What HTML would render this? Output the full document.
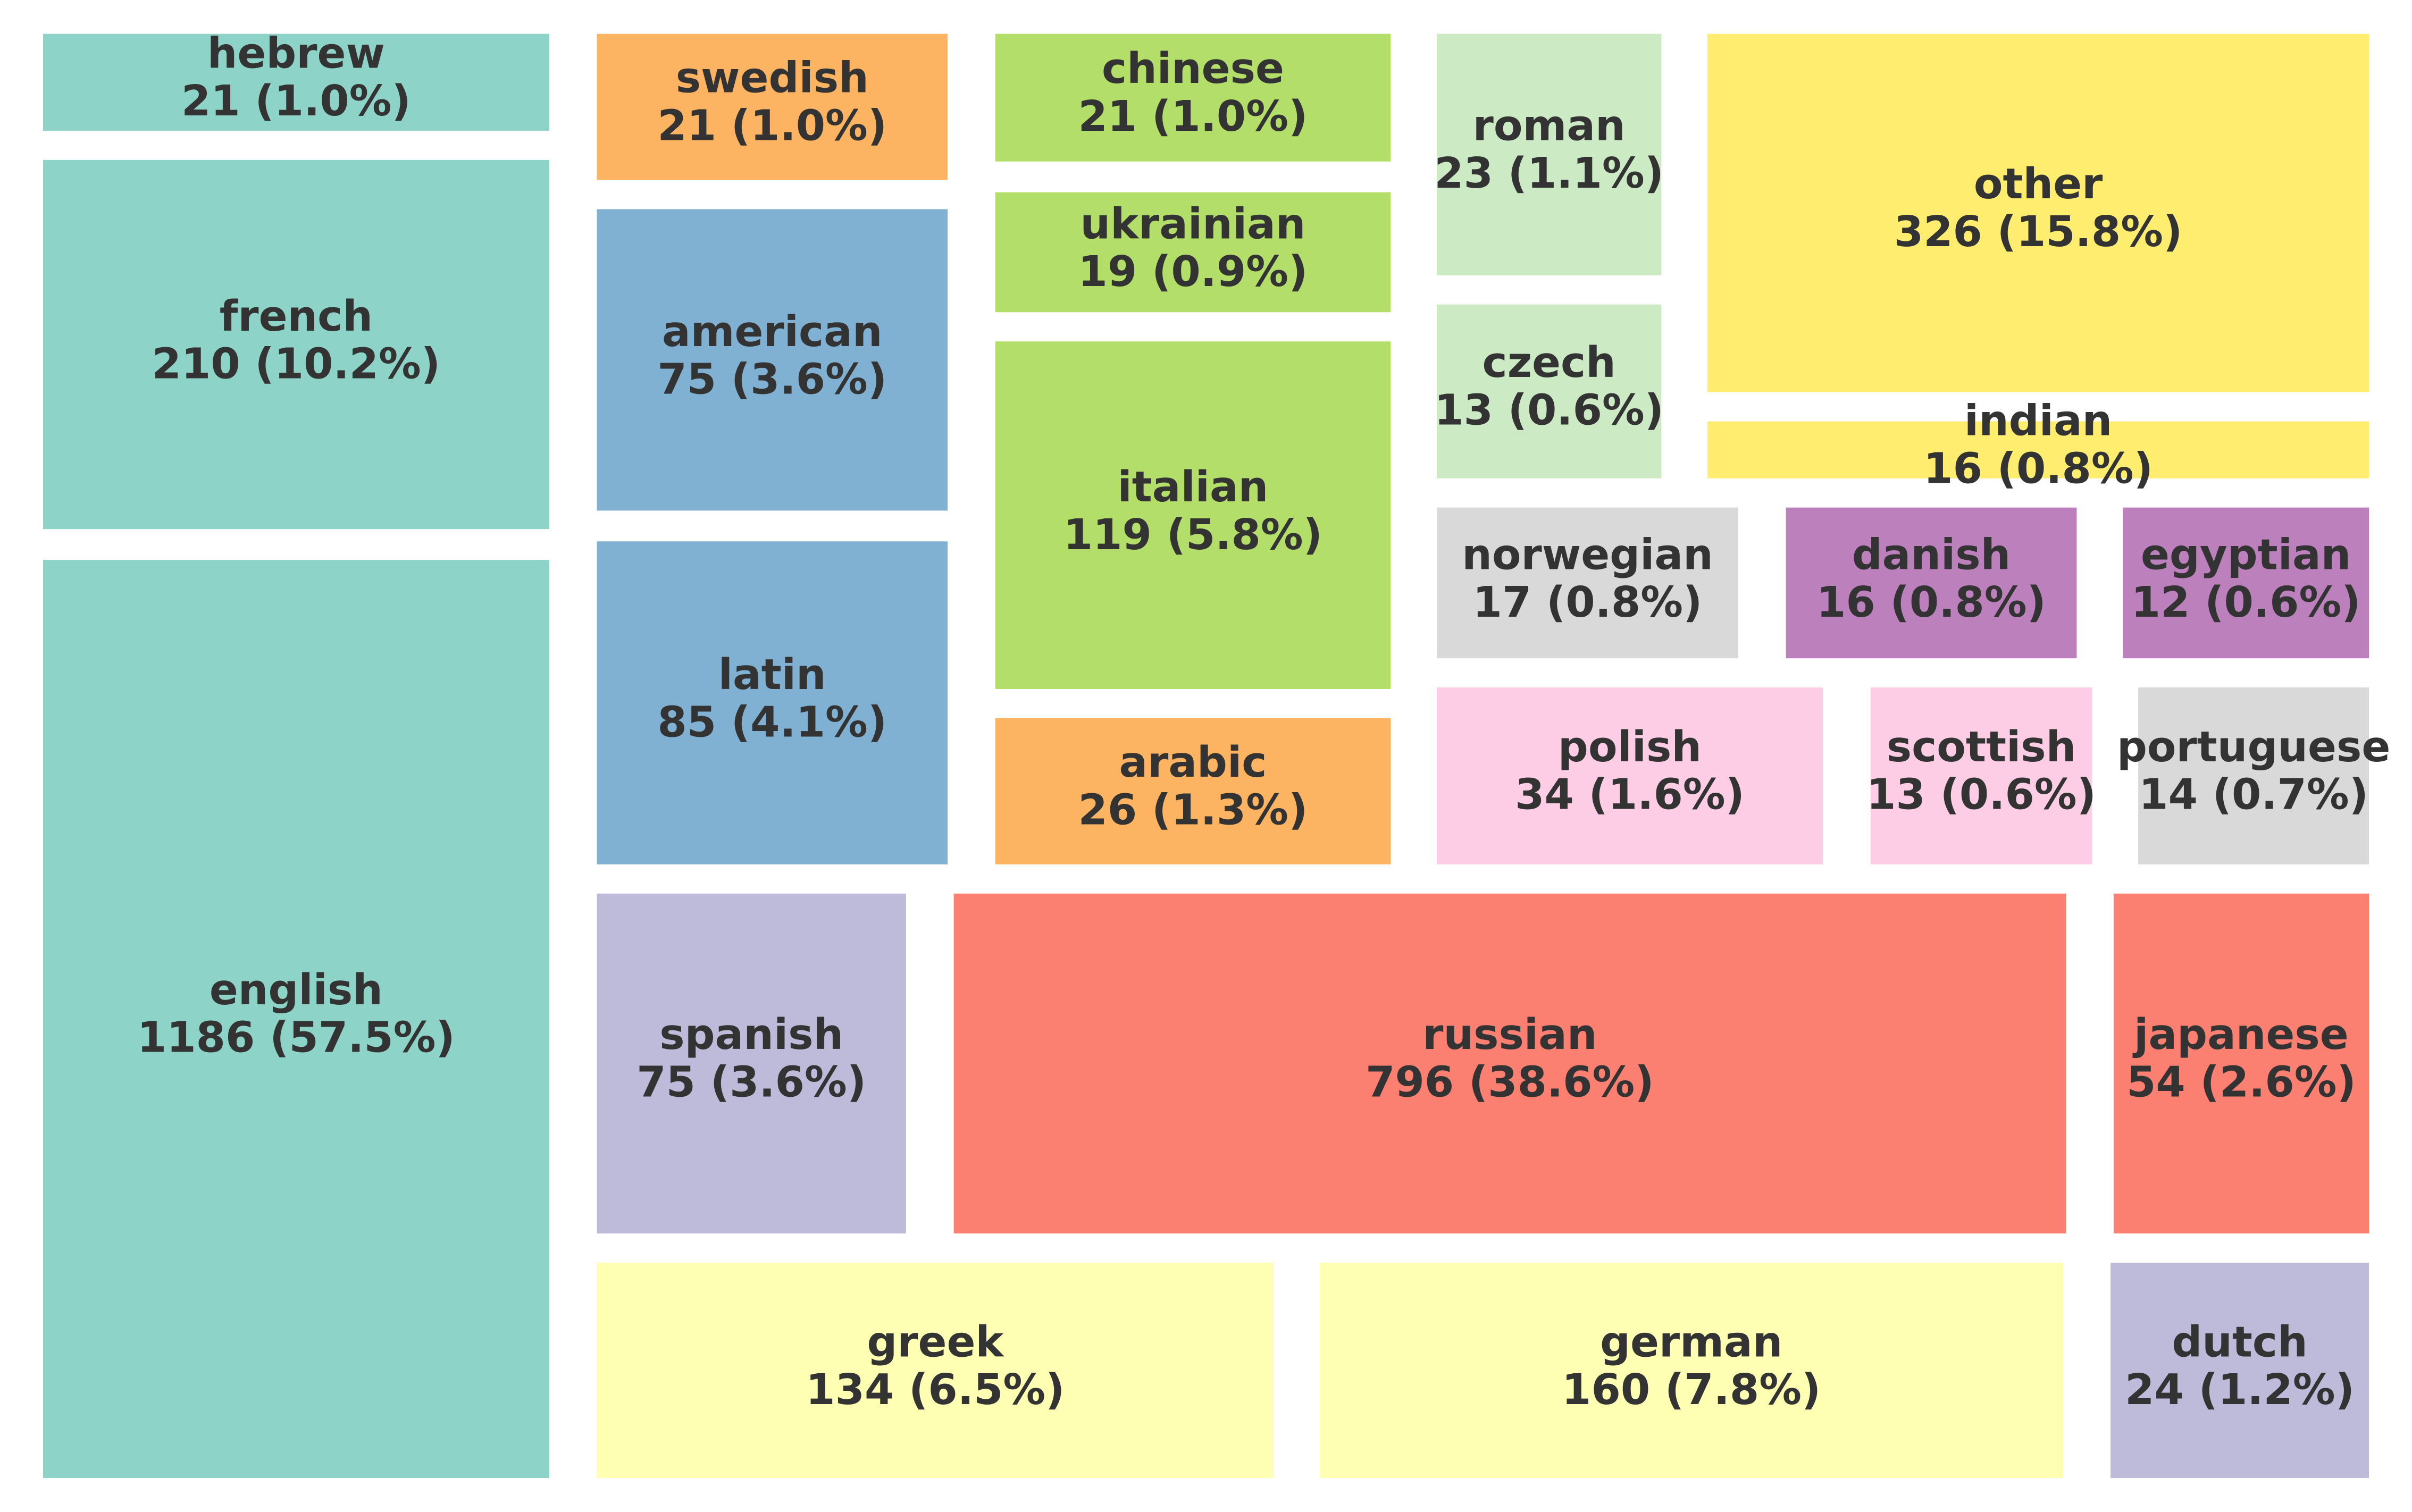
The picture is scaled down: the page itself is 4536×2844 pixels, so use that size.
<!DOCTYPE html>
<html><head><meta charset="utf-8"><style>
html,body{margin:0;padding:0;background:#fff;}
body{width:4536px;height:2844px;overflow:hidden;position:relative;}
#c{position:absolute;left:0;top:0;width:1568px;height:983px;transform:scale(2.8929);transform-origin:0 0;}
.r{position:absolute;display:flex;align-items:center;justify-content:center;text-align:center;box-sizing:border-box;padding-bottom:5px;
font-family:"DejaVu Sans","Liberation Sans",sans-serif;font-weight:bold;font-size:27.5px;line-height:31px;color:#333;white-space:nowrap;overflow:visible;}
</style></head><body><div id="c">
<div class="r" style="left:28px;top:22px;width:329px;height:63px;background:#8dd3c7">hebrew<br>21 (1.0%)</div>
<div class="r" style="left:28px;top:104px;width:329px;height:240px;background:#8dd3c7">french<br>210 (10.2%)</div>
<div class="r" style="left:28px;top:364px;width:329px;height:597px;background:#8dd3c7">english<br>1186 (57.5%)</div>
<div class="r" style="left:388px;top:22px;width:228px;height:95px;background:#fdb462">swedish<br>21 (1.0%)</div>
<div class="r" style="left:388px;top:136px;width:228px;height:196px;background:#80b1d3">american<br>75 (3.6%)</div>
<div class="r" style="left:388px;top:352px;width:228px;height:210px;background:#80b1d3">latin<br>85 (4.1%)</div>
<div class="r" style="left:647px;top:22px;width:257px;height:83px;background:#b3de69">chinese<br>21 (1.0%)</div>
<div class="r" style="left:647px;top:125px;width:257px;height:78px;background:#b3de69">ukrainian<br>19 (0.9%)</div>
<div class="r" style="left:647px;top:222px;width:257px;height:226px;background:#b3de69">italian<br>119 (5.8%)</div>
<div class="r" style="left:647px;top:467px;width:257px;height:95px;background:#fdb462">arabic<br>26 (1.3%)</div>
<div class="r" style="left:934px;top:22px;width:146px;height:157px;background:#ccebc5">roman<br>23 (1.1%)</div>
<div class="r" style="left:934px;top:198px;width:146px;height:113px;background:#ccebc5">czech<br>13 (0.6%)</div>
<div class="r" style="left:1110px;top:22px;width:430px;height:233px;background:#ffed6f">other<br>326 (15.8%)</div>
<div class="r" style="left:1110px;top:274px;width:430px;height:37px;background:#ffed6f">indian<br>16 (0.8%)</div>
<div class="r" style="left:934px;top:330px;width:196px;height:98px;background:#d9d9d9">norwegian<br>17 (0.8%)</div>
<div class="r" style="left:1161px;top:330px;width:189px;height:98px;background:#bc80bd">danish<br>16 (0.8%)</div>
<div class="r" style="left:1380px;top:330px;width:160px;height:98px;background:#bc80bd">egyptian<br>12 (0.6%)</div>
<div class="r" style="left:934px;top:447px;width:251px;height:115px;background:#fccde5">polish<br>34 (1.6%)</div>
<div class="r" style="left:1216px;top:447px;width:144px;height:115px;background:#fccde5">scottish<br>13 (0.6%)</div>
<div class="r" style="left:1390px;top:447px;width:150px;height:115px;background:#d9d9d9">portuguese<br>14 (0.7%)</div>
<div class="r" style="left:388px;top:581px;width:201px;height:221px;background:#bebada">spanish<br>75 (3.6%)</div>
<div class="r" style="left:620px;top:581px;width:723px;height:221px;background:#fb8072">russian<br>796 (38.6%)</div>
<div class="r" style="left:1374px;top:581px;width:166px;height:221px;background:#fb8072">japanese<br>54 (2.6%)</div>
<div class="r" style="left:388px;top:821px;width:440px;height:140px;background:#ffffb3">greek<br>134 (6.5%)</div>
<div class="r" style="left:858px;top:821px;width:483px;height:140px;background:#ffffb3">german<br>160 (7.8%)</div>
<div class="r" style="left:1372px;top:821px;width:168px;height:140px;background:#bebada">dutch<br>24 (1.2%)</div>
</div></body></html>
